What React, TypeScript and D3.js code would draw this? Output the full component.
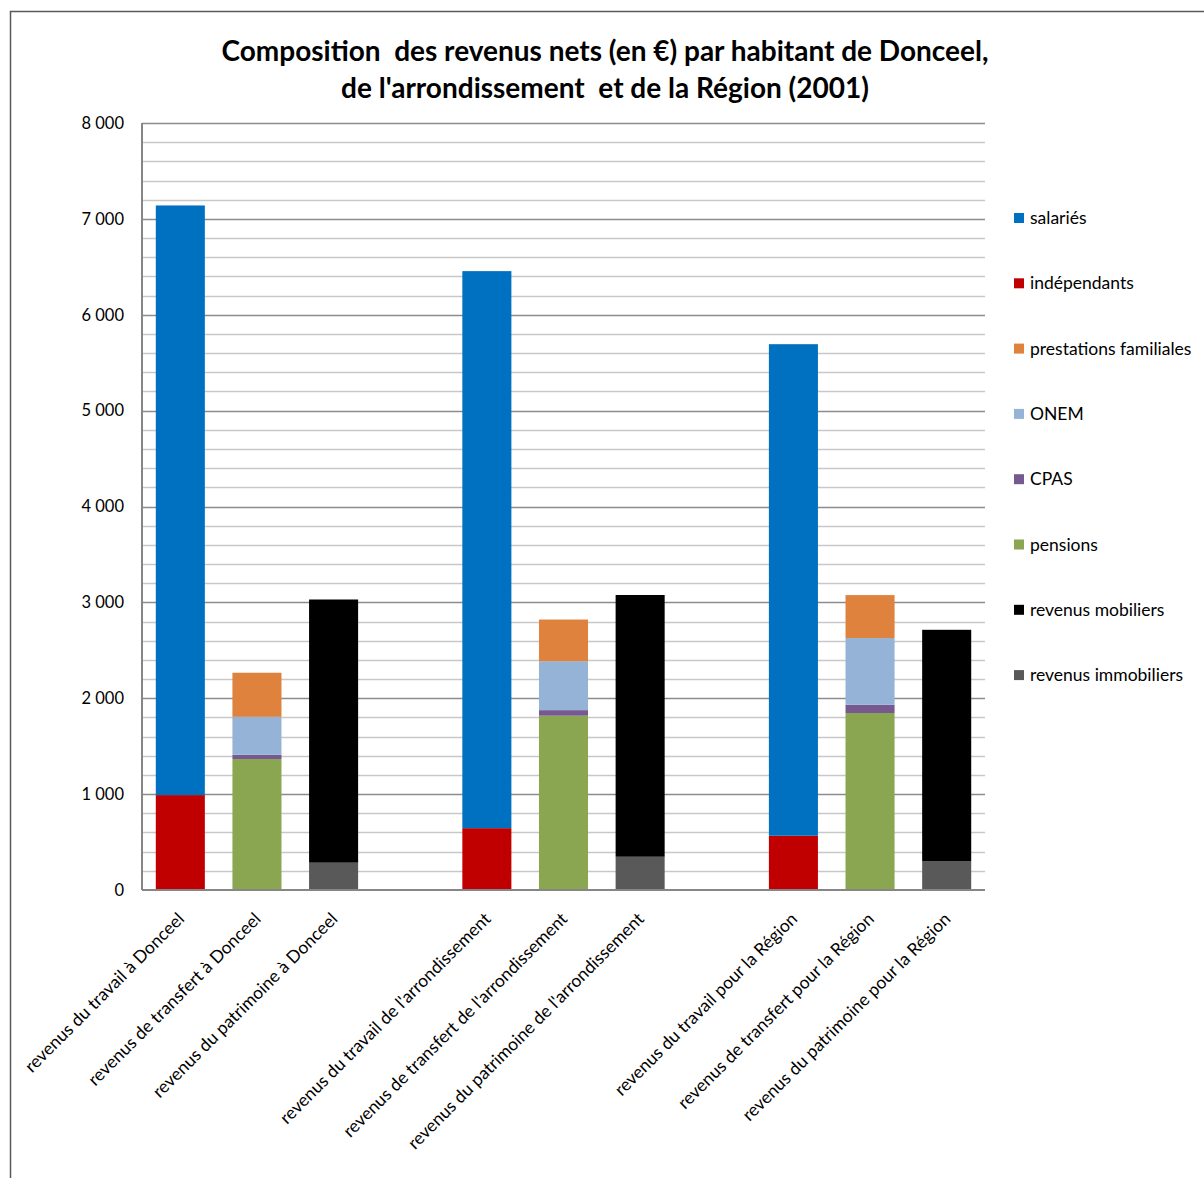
import { useEffect, useRef } from 'react';
import * as d3 from 'd3';

const categories = [
  "revenus du travail à Donceel",
  "revenus de transfert à Donceel",
  "revenus du patrimoine à Donceel",
  "",
  "revenus du travail de l'arrondissement",
  "revenus de transfert de l'arrondissement",
  "revenus du patrimoine de l'arrondissement",
  "",
  "revenus du travail pour la Région",
  "revenus de transfert pour la Région",
  "revenus du patrimoine pour la Région",
];

const salaries = [6150, 0, 0, 0, 5810, 0, 0, 0, 5127, 0, 0];
const independants = [990, 0, 0, 0, 645, 0, 0, 0, 566, 0, 0];
const prestations = [0, 460, 0, 0, 0, 435, 0, 0, 0, 448, 0];
const onem = [0, 395, 0, 0, 0, 510, 0, 0, 0, 696, 0];
const cpas = [0, 45, 0, 0, 0, 58, 0, 0, 0, 86, 0];
const pensions = [0, 1366, 0, 0, 0, 1818, 0, 0, 0, 1846, 0];
const mobiliers = [0, 0, 2745, 0, 0, 0, 2730, 0, 0, 0, 2412];
const immobiliers = [0, 0, 285, 0, 0, 0, 347, 0, 0, 0, 302];

const yTicks = [0, 1000, 2000, 3000, 4000, 5000, 6000, 7000, 8000];

// legend order (top to bottom)
const series = [
  { name: "salariés", values: salaries, color: "#0070C0" },
  { name: "indépendants", values: independants, color: "#C00000" },
  { name: "prestations familiales", values: prestations, color: "#DE823E" },
  { name: "ONEM", values: onem, color: "#95B3D7" },
  { name: "CPAS", values: cpas, color: "#765990" },
  { name: "pensions", values: pensions, color: "#8BA650" },
  { name: "revenus mobiliers", values: mobiliers, color: "#000000" },
  { name: "revenus immobiliers", values: immobiliers, color: "#595959" },
];

const FONT = "Lato, 'Open Sans', sans-serif";

export default function App() {
  const svgRef = useRef<SVGSVGElement>(null);

  useEffect(() => {
    if (!svgRef.current) return;
    const svg = d3.select(svgRef.current);
    svg.selectAll("*").remove();

    const width = 1204;
    const height = 1178;
    const margin = { top: 123, left: 142, right: 219, bottom: 288 };
    const chartWidth = width - margin.left - margin.right;
    const chartHeight = height - margin.top - margin.bottom;

    // outer frame
    svg.append("rect")
      .attr("x", 10.5).attr("y", 11.5)
      .attr("width", 1220).attr("height", 1200)
      .attr("fill", "#fff")
      .attr("stroke", "#595959")
      .attr("stroke-width", 1.5);

    // title
    const title = svg.append("text")
      .attr("text-anchor", "middle")
      .attr("font-family", FONT)
      .attr("font-weight", "bold")
      .attr("font-size", 28)
      .attr("fill", "#000")
      .style("white-space", "pre");
    title.append("tspan").attr("x", 605).attr("y", 61)
      .text("Composition  des revenus nets (en €) par habitant de Donceel,");
    title.append("tspan").attr("x", 605).attr("y", 98)
      .text("de l'arrondissement  et de la Région (2001)");

    const g = svg.append("g")
      .attr("transform", `translate(${margin.left}, ${margin.top})`);

    const idx = categories.map((_, i) => String(i));
    const xScale = d3.scaleBand<string>()
      .domain(idx)
      .range([0, chartWidth])
      .paddingInner(0.36)
      .paddingOuter(0.18);

    const yScale = d3.scaleLinear()
      .domain([0, 8000])
      .range([chartHeight, 0]);

    // gridlines: minor every 200, major every 1000
    const minor = d3.range(200, 8001, 200).filter(v => v % 1000 !== 0);
    g.selectAll(".minor")
      .data(minor)
      .enter().append("line")
      .attr("x1", 0).attr("x2", chartWidth)
      .attr("y1", d => Math.round(yScale(d)) + 0.5)
      .attr("y2", d => Math.round(yScale(d)) + 0.5)
      .attr("stroke", "#C8C8C8")
      .attr("stroke-width", 1.5);
    g.selectAll(".major")
      .data(yTicks.filter(v => v > 0))
      .enter().append("line")
      .attr("x1", 0).attr("x2", chartWidth)
      .attr("y1", d => Math.round(yScale(d)) + 0.5)
      .attr("y2", d => Math.round(yScale(d)) + 0.5)
      .attr("stroke", "#8C8C8C")
      .attr("stroke-width", 1.5);

    // stacked bars (bottom-up = reverse of legend order)
    const stackOrder = [...series].reverse();
    const rows = categories.map((_, i) => {
      const r: Record<string, number | string> = { key: String(i) };
      stackOrder.forEach(s => { r[s.name] = s.values[i]; });
      return r;
    });
    const stack = d3.stack<Record<string, number | string>>()
      .keys(stackOrder.map(s => s.name))
      .value((d, k) => d[k] as number);
    const stacked = stack(rows);

    stacked.forEach((layer, li) => {
      g.selectAll(`.bar-${li}`)
        .data(layer.filter(d => d[1] - d[0] > 0))
        .enter().append("rect")
        .attr("x", d => xScale(d.data.key as string)!)
        .attr("width", xScale.bandwidth())
        .attr("y", d => yScale(d[1]))
        .attr("height", d => yScale(d[0]) - yScale(d[1]))
        .attr("fill", stackOrder[li].color);
    });

    // axes lines
    g.append("line")
      .attr("x1", 0).attr("x2", 0)
      .attr("y1", 0).attr("y2", chartHeight)
      .attr("stroke", "#868686").attr("stroke-width", 2);
    g.append("line")
      .attr("x1", 0).attr("x2", chartWidth)
      .attr("y1", chartHeight).attr("y2", chartHeight)
      .attr("stroke", "#868686").attr("stroke-width", 2);

    // y tick labels
    const fmt = d3.formatLocale({ decimal: ",", thousands: "\u00a0", grouping: [3], currency: ["", " €"] }).format(",d");
    g.selectAll(".ytick")
      .data(yTicks)
      .enter().append("text")
      .attr("x", -18)
      .attr("y", d => yScale(d))
      .attr("dy", "0.35em")
      .attr("text-anchor", "end")
      .attr("font-family", FONT)
      .attr("font-size", 16.5)
      .attr("fill", "#000")
      .text(d => fmt(d));

    // x labels rotated
    g.selectAll(".xlab")
      .data(categories.map((c, i) => ({ c, k: String(i) })).filter(d => d.c !== ""))
      .enter().append("text")
      .attr("transform", d => {
        const cx = xScale(d.k)! + xScale.bandwidth() / 2 + 5;
        return `translate(${cx}, ${chartHeight + 30}) rotate(-45)`;
      })
      .attr("text-anchor", "end")
      .attr("font-family", FONT)
      .attr("font-size", 17.5)
      .attr("fill", "#000")
      .text(d => d.c);

    // legend
    const legend = svg.append("g")
      .attr("transform", `translate(1014, 218)`);
    series.forEach((s, i) => {
      const row = legend.append("g").attr("transform", `translate(0, ${i * 65.3})`);
      row.append("rect")
        .attr("x", 0).attr("y", -5)
        .attr("width", 10).attr("height", 10)
        .attr("fill", s.color);
      row.append("text")
        .attr("x", 16).attr("y", 0)
        .attr("dy", "0.35em")
        .attr("font-family", FONT)
        .attr("font-size", 17.5)
        .attr("fill", "#000")
        .text(s.name);
    });
  }, []);

  return (
    <svg
      ref={svgRef}
      width={1204}
      height={1178}
      style={{ position: 'absolute', left: 0, top: 0, display: 'block' }}
    />
  );
}
